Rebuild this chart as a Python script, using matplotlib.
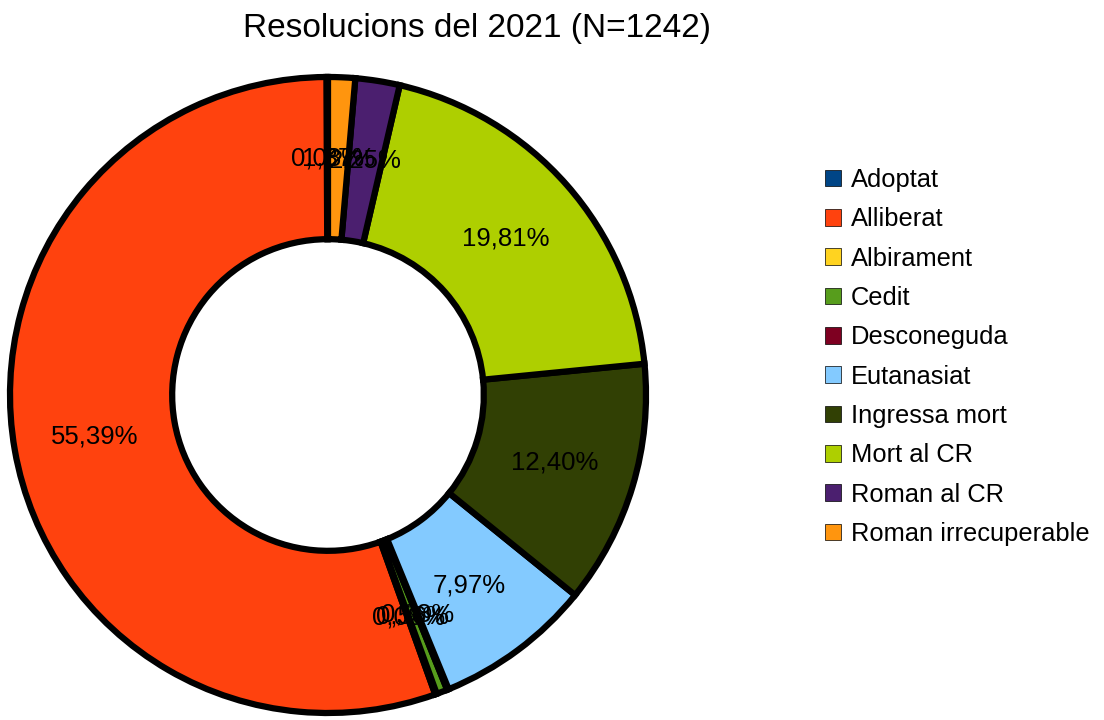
import matplotlib.pyplot as plt
from matplotlib.patches import Patch
import numpy as np

plt.rcParams['font.family'] = ['Liberation Sans', 'DejaVu Sans']

categories = ["Adoptat", "Alliberat", "Albirament", "Cedit", "Desconeguda",
              "Eutanasiat", "Ingressa mort", "Mort al CR", "Roman al CR",
              "Roman irrecuperable"]
percents = [0.08, 55.39, 0.08, 0.56, 0.08, 7.97, 12.40, 19.81, 2.25, 1.37]
colors = ["#004586", "#ff420e", "#ffd320", "#579d1c", "#7e0021",
          "#83caff", "#314004", "#aecf00", "#4b1f6f", "#ff950e"]
title = "Resolucions del 2021 (N=1242)"

fig = plt.figure(figsize=(11.04, 7.2), dpi=100)
R = 318
lim = 1.03
size = 2 * lim * R
ax = fig.add_axes([(328 - size / 2) / 1104, (720 - 395 - size / 2) / 720,
                   size / 1104, size / 720])

wedges, texts = ax.pie(percents, colors=colors, startangle=90, counterclock=True,
                       radius=1.0,
                       wedgeprops=dict(width=0.51, edgecolor="black", linewidth=4.5))

# labels in the middle of the ring
total = sum(percents)
theta = 90.0
for p in percents:
    mid = np.deg2rad(theta + 360 * p / total / 2)
    theta += 360 * p / total
    r = 0.745
    lab = f"{p:.2f}%".replace(".", ",")
    ax.text(r * np.cos(mid), r * np.sin(mid), lab, ha="center", va="center",
            fontsize=18.5)

ax.set_xlim(-lim, lim)
ax.set_ylim(-lim, lim)
ax.set_aspect("equal")
ax.axis("off")

fig.text(477 / 1104, 1 - 28 / 720, title, ha="center", va="center", fontsize=24)

handles = [Patch(facecolor=c, edgecolor="black", linewidth=0.5) for c in colors]
fig.legend(handles, categories, loc="upper left", bbox_to_anchor=(825 / 1104, 1 - 168 / 720),
           frameon=False, fontsize=18.4, handlelength=0.63, handleheight=0.63,
           handletextpad=0.38, labelspacing=0.6, borderaxespad=0, borderpad=0)

fig.savefig("out.png", dpi=100)
